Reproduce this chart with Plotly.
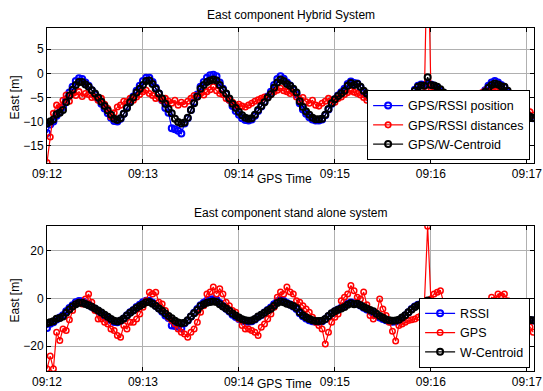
import plotly.graph_objects as go
from datetime import datetime, timedelta

# ---------------- data (one sample every 2 s from 09:12:00) ----------------
start_time = "2000-01-01 09:12:00"
sample_step_s = 2

w_centroid = [
    -10.4, -10.0, -9.6, -8.5, -8.2, -7.6, -6.0, -4.6, -3.4, -2.4,
    -1.8, -1.8, -2.3, -2.8, -3.5, -4.2, -5.0, -5.9, -6.8, -7.7,
    -8.6, -9.4, -9.7, -9.3, -8.4, -7.2, -6.0, -5.0, -4.0, -3.2,
    -2.4, -1.6, -1.5, -2.2, -3.2, -4.2, -5.2, -6.3, -7.4, -8.3,
    -9.4, -10.1, -10.4, -10.2, -9.2, -7.6, -6.2, -4.8, -3.2, -2.4,
    -1.8, -1.5, -1.3, -1.5, -2.4, -3.4, -4.2, -5.2, -6.3, -7.2,
    -8.0, -8.7, -9.2, -9.4, -9.3, -8.6, -7.6, -6.8, -6.0, -5.0,
    -4.3, -3.0, -1.9, -1.3, -1.6, -2.2, -2.6, -3.2, -4.0, -5.8,
    -7.0, -7.9, -8.6, -9.2, -9.5, -9.5, -9.4, -8.6, -7.4, -6.2,
    -5.4, -4.7, -4.2, -3.6, -2.6, -2.0, -2.4, -2.2, -2.8, -3.6,
    -4.2, -4.8, -5.4, -6.4, -7.4, -8.1, -8.8, -9.2, -9.4, -9.3,
    -8.9, -8.0, -7.0, -5.8, -4.6, -3.6, -2.8, -2.5, -2.6, -0.8,
    -2.4, -2.5, -2.8, -3.3, -4.0, -4.8, -5.8, -6.6, -7.4, -8.2,
    -8.8, -9.0, -8.6, -7.8, -6.6, -5.4, -4.6, -3.8, -3.0, -2.4,
    -2.1, -2.3, -2.7, -2.8, -3.6, -4.4, -5.0, -5.8, -7.0, -7.8,
    -8.4, -9.0, -9.2,
]

gps_rssi_position = [
    -12.4, -10.6, -10.0, -8.8, -8.0, -7.0, -5.4, -4.0, -2.8, -1.6,
    -1.0, -1.2, -1.9, -2.6, -3.5, -4.4, -5.3, -6.3, -7.3, -8.3,
    -9.2, -9.9, -10.0, -9.4, -8.4, -7.0, -5.8, -4.8, -3.6, -2.6,
    -1.6, -0.9, -0.9, -1.8, -3.0, -4.2, -5.6, -7.2, -8.2, -11.4,
    -11.6, -11.9, -12.5, -10.4, -9.3, -7.6, -6.0, -4.4, -2.8, -1.8,
    -0.9, -0.4, -0.3, -0.6, -1.9, -3.2, -4.3, -5.5, -6.8, -7.8,
    -8.6, -9.3, -9.7, -9.8, -9.6, -8.8, -7.8, -6.9, -5.9, -4.8,
    -3.8, -2.4, -1.2, -0.6, -1.1, -1.9, -2.5, -3.4, -4.4, -6.2,
    -7.5, -8.4, -9.1, -9.6, -9.8, -9.8, -9.6, -8.7, -7.5, -6.3,
    -5.4, -4.6, -3.9, -3.2, -2.2, -1.7, -2.0, -2.1, -2.9, -3.9,
    -4.6, -5.3, -6.0, -7.0, -8.0, -8.6, -9.2, -9.6, -9.8, -9.7,
    -9.2, -8.3, -7.2, -5.8, -4.4, -3.4, -2.6, -2.3, -2.4, -2.2,
    -2.3, -2.6, -3.0, -3.6, -4.4, -5.3, -6.3, -7.1, -7.9, -8.6,
    -9.2, -9.4, -9.0, -8.0, -6.6, -5.3, -4.4, -3.5, -2.6, -1.9,
    -1.6, -1.9, -2.4, -2.9, -3.9, -4.9, -5.7, -6.6, -7.6, -8.4,
    -8.9, -9.2, -9.3,
]

gps_rssi_distances = [
    -18.5, -13.2, -8.3, -6.6, -7.0, -5.6, -4.5, -5.8, -4.2, -4.6,
    -3.8, -4.8, -4.2, -4.4, -5.0, -4.9, -5.6, -5.2, -6.4, -7.3,
    -9.0, -8.2, -7.0, -6.6, -5.8, -5.9, -5.2, -5.6, -4.9, -4.4,
    -3.8, -3.5, -4.2, -4.6, -5.2, -5.0, -5.6, -5.2, -5.8, -6.2,
    -5.6, -6.6, -6.0, -6.4, -5.8, -5.2, -4.6, -4.9, -4.2, -4.5,
    -3.8, -3.4, -2.8, -3.6, -4.2, -4.4, -5.2, -5.6, -6.0, -6.6,
    -6.4, -6.8, -7.0, -6.6, -6.2, -5.8, -5.5, -5.2, -4.9, -5.0,
    -4.4, -3.8, -3.5, -3.1, -3.6, -3.8, -4.2, -4.0, -4.9, -5.4,
    -5.0, -5.9, -6.2, -5.6, -6.6, -6.8, -6.2, -5.8, -5.2, -5.6,
    -6.0, -5.2, -4.9, -4.4, -4.0, -3.6, -3.9, -4.2, -4.5, -5.0,
    -5.6, -5.2, -5.6, -5.4, -6.0, -6.4, -5.8, -6.6, -6.0, -6.8,
    -6.4, -5.9, -6.6, -6.2, -5.6, -5.2, -4.6, -4.2, -4.0, 30.0,
    -3.0, -3.5, -4.2, -4.0, -4.9, -5.6, -6.0, -6.6, -7.0, -6.4,
    -6.8, -7.0, -6.2, -5.6, -5.0, -4.4, -4.0, -3.6, -3.8, -3.2,
    -3.4, -3.1, -3.8, -4.2, -4.6, -5.0, -5.6, -6.0, -6.6, -7.0,
    -7.4, -8.0, -8.7,
]

rssi = gps_rssi_position  # stand-alone RSSI solution (overlaps the hybrid one)

gps = [
    -29.6, -24.2, -29.6, -14.2, -17.7, -12.8, -13.5, -8.9, -5.1, -2.3,
    -1.6, -2.3, -0.2, 1.9, -1.6, -5.1, -8.6, -8.6, -10.0, -10.7,
    -12.8, -13.5, -15.6, -16.3, -11.4, -12.8, -10.0, -10.0, -8.6, -6.5,
    -3.7, -0.9, 2.6, 1.9, 2.6, -1.6, -2.3, -5.1, -7.9, -9.3,
    -10.7, -12.8, -14.2, -14.9, -16.3, -14.2, -12.8, -10.0, -5.8, -3.0,
    1.9, 2.7, 4.8, 1.9, 4.1, 1.9, -1.6, -3.0, -5.1, -5.8,
    -8.6, -11.4, -12.8, -12.8, -13.5, -14.2, -15.6, -12.1, -10.7, -8.6,
    -6.5, -3.7, 0.5, 2.7, 1.9, 4.8, 2.7, 1.9, -0.9, -1.6,
    -3.0, -4.4, -5.8, -7.9, -10.0, -11.4, -12.8, -19.1, -14.2, -10.0,
    -7.9, -6.5, -0.9, 0.5, 1.9, 5.5, 3.3, 0.5, -0.2, 2.7,
    -2.6, -7.2, -8.6, -7.2, -0.2, -4.4, -7.2, -10.0, -13.8, -17.9,
    -11.4, -10.7, -10.0, -9.3, -8.9, -8.6, -7.9, -7.2, -1.6, 30.4,
    -0.2, 1.9, 2.6, 3.3, -1.6, -4.4, -8.6, -9.8, -5.8, -7.9,
    -10.5, -12.0, -11.0, -9.6, -8.6, -8.2, -7.2, -4.4, -2.2, 0.5,
    -0.6, 1.9, 1.2, 1.9, -0.9, -2.3, -3.7, -6.5, -7.6, -8.6,
    -9.8, -12.0, -14.2,
]

time_tick_labels = ["09:12", "09:13", "09:14", "09:15", "09:16", "09:17"]

# ---------------- figure ----------------
t0 = datetime.strptime(start_time, "%Y-%m-%d %H:%M:%S")


def times(values):
    return [t0 + timedelta(seconds=sample_step_s * i) for i in range(len(values))]


FONT = "Liberation Sans, Arial, Helvetica, sans-serif"
BLUE, RED, BLACK = "#0000ff", "#ff0000", "#000000"


def series(values, name, color, xa, ya, legend, msize=6, mline=2.0):
    return go.Scatter(
        x=times(values), y=values, name=name, mode="lines+markers",
        xaxis=xa, yaxis=ya, legend=legend,
        line=dict(color=color, width=1.2),
        marker=dict(symbol="circle-open", size=msize, color=color,
                    line=dict(color=color, width=mline)),
    )


fig = go.Figure()
fig.add_trace(series(gps_rssi_position, "GPS/RSSI position", BLUE, "x", "y", "legend"))
fig.add_trace(series(gps_rssi_distances, "GPS/RSSI distances", RED, "x", "y", "legend", 5.5, 1.6))
fig.add_trace(series(w_centroid, "GPS/W-Centroid", BLACK, "x", "y", "legend"))
fig.add_trace(series(rssi, "RSSI", BLUE, "x2", "y2", "legend2"))
fig.add_trace(series(gps, "GPS", RED, "x2", "y2", "legend2", 5.5, 1.5))
fig.add_trace(series(w_centroid, "W-Centroid", BLACK, "x2", "y2", "legend2"))

tick_times = [t0 + timedelta(minutes=i) for i in range(len(time_tick_labels))]
x_end = t0 + timedelta(seconds=304.5)

axis_common = dict(
    showline=True, linecolor="black", linewidth=1, mirror="ticks",
    ticks="inside", ticklen=4, tickcolor="black",
    showgrid=True, gridcolor="#b0b0b0", gridwidth=1,
    zeroline=False, tickfont=dict(family=FONT, size=12, color="black"),
)

xaxis_common = dict(axis_common, type="date", range=[t0, x_end],
                    tickvals=tick_times, ticktext=time_tick_labels)

legend_common = dict(xanchor="right", yanchor="bottom", bgcolor="white",
                     bordercolor="black", borderwidth=1, itemwidth=30,
                     font=dict(family=FONT, size=12.5), tracegroupgap=0)

fig.update_layout(
    autosize=False, width=543, height=391,
    margin=dict(l=47, r=9, t=28, b=20, autoexpand=False),
    paper_bgcolor="white", plot_bgcolor="white",
    font=dict(family=FONT, size=12, color="black"),
    xaxis=dict(xaxis_common, domain=[0, 1], anchor="y"),
    yaxis=dict(axis_common, domain=[0.6064, 1], range=[-18.6, 9.4],
               tickvals=[-15, -10, -5, 0, 5], anchor="x"),
    xaxis2=dict(xaxis_common, domain=[0, 1], anchor="y2"),
    yaxis2=dict(axis_common, domain=[0, 0.4227], range=[-30.5, 30.5],
                tickvals=[-20, 0, 20], anchor="x2"),
    legend=dict(legend_common, x=0.992, y=0.6152),
    legend2=dict(legend_common, x=0.992, y=0.0096),
    showlegend=True,
)

annots = [
    dict(text="East component Hybrid System", x=0.5, y=1.038),
    dict(text="East component stand alone system", x=0.5, y=0.4606),
    dict(text="GPS Time", x=0.487, y=0.559),
    dict(text="GPS Time", x=0.487, y=-0.038),
    dict(text="East [m]", x=-0.066, y=0.797, textangle=-90),
    dict(text="East [m]", x=-0.066, y=0.205, textangle=-90),
]
for a in annots:
    fig.add_annotation(xref="paper", yref="paper", showarrow=False,
                       xanchor="center", yanchor="middle",
                       font=dict(family=FONT, size=12, color="black"), **a)

fig.write_html(
    "out.html",
    config={"displayModeBar": False, "responsive": False},
    post_script="document.body.style.margin='0';document.body.style.overflow='hidden';",
)
